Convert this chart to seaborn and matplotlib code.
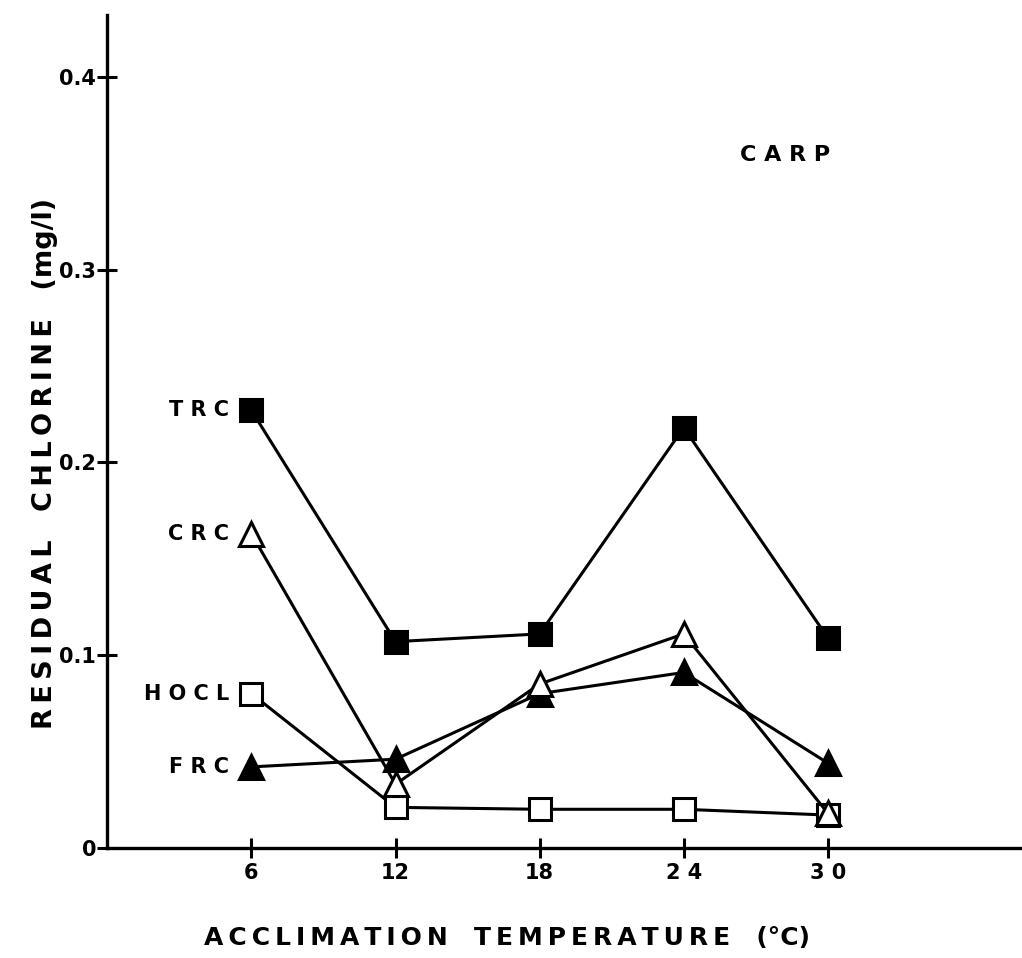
import matplotlib
matplotlib.use("Agg")
import matplotlib.pyplot as plt
import seaborn as sns
import pandas as pd

# Acclimation temperatures (°C) and residual chlorine (mg/l) for carp
temperature = [6, 12, 18, 24, 30]
trc = [0.227, 0.107, 0.111, 0.218, 0.109]
crc = [0.163, 0.033, 0.085, 0.111, 0.018]
hocl = [0.080, 0.021, 0.020, 0.020, 0.017]
frc = [0.042, 0.046, 0.080, 0.091, 0.044]

y_ticks = [0, 0.1, 0.2, 0.3, 0.4]
y_tick_labels = ["0", "0.1", "0.2", "0.3", "0.4"]
x_tick_labels = ["6", "12", "18", "2 4", "3 0"]

series = [
    ("F R C", frc, "^", "black"),
    ("H O C L", hocl, "s", "white"),
    ("C R C", crc, "^", "white"),
    ("T R C", trc, "s", "black"),
]


def spaced(text, gap="\u2009", word_gap="   "):
    """Letter-space a caption: thin gaps between letters, wide gaps between words."""
    return word_gap.join(gap.join(word) for word in text.split(" "))


sns.set_theme(style="white")
plt.rcParams["font.family"] = ["DejaVu Sans"]
plt.rcParams["text.color"] = "black"
plt.rcParams["xtick.color"] = "black"
plt.rcParams["ytick.color"] = "black"
plt.rcParams["axes.labelcolor"] = "black"

fig = plt.figure(figsize=(10.22, 9.58), dpi=100)
ax = fig.add_axes([0.105, 0.115, 0.893, 0.869])

for name, vals, mk, face in series:
    df = pd.DataFrame({"temp": temperature, "cl": vals})
    sns.lineplot(data=df, x="temp", y="cl", ax=ax, color="black", lw=2.2,
                 marker=mk, markersize=16 if mk == "s" else 17,
                 markerfacecolor=face, markeredgecolor="black",
                 markeredgewidth=2.2, zorder=3)
    ax.annotate(name, xy=(temperature[0], vals[0]), xytext=(-16, 0),
                textcoords="offset points", ha="right", va="center",
                fontsize=15, fontweight="bold", color="black")

ax.set_xlim(0, 38)
ax.set_ylim(0, 0.432)
ax.set_xticks(temperature)
ax.set_xticklabels(x_tick_labels, fontsize=15, fontweight="bold")
ax.set_yticks(y_ticks)
ax.set_yticklabels(y_tick_labels, fontsize=15, fontweight="bold")
ax.tick_params(axis="both", direction="inout", length=14, width=2.2,
               color="black", labelcolor="black", left=True, bottom=True)
ax.tick_params(axis="y", pad=1)
ax.tick_params(axis="x", pad=4)

for side in ["top", "right"]:
    ax.spines[side].set_visible(False)
for side in ["left", "bottom"]:
    ax.spines[side].set_color("black")
    ax.spines[side].set_linewidth(2.4)

ax.set_xlabel("")
ax.set_ylabel("")

ax.text(0.743, 0.832, "C A R P", transform=ax.transAxes, fontsize=16,
        fontweight="bold", ha="center", va="center")

fig.text(507 / 1022, 1 - 938 / 958,
         spaced("ACCLIMATION TEMPERATURE") + "   (°C)",
         fontsize=18, fontweight="bold", ha="center", va="center")
fig.text(45 / 1022, 1 - 463 / 958,
         spaced("RESIDUAL CHLORINE") + "   (mg/l)",
         fontsize=19.5, fontweight="bold", ha="center", va="center",
         rotation=90)

fig.savefig("out.png", dpi=100, facecolor="white")
